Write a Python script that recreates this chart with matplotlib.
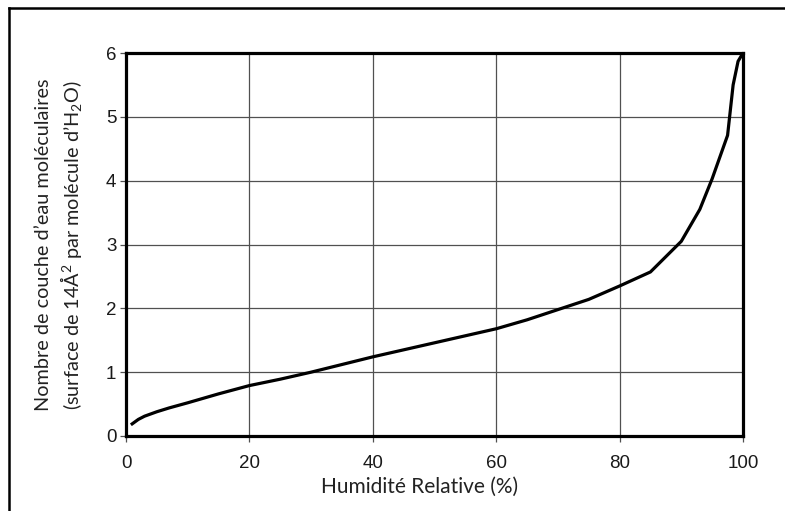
import matplotlib
matplotlib.use("Agg")
import matplotlib.pyplot as plt
from matplotlib.lines import Line2D

# Data
humidity = [1, 2, 3, 5, 7, 10, 15, 20, 25, 30, 35, 40, 45, 50, 55, 60, 65, 70,
            75, 80, 85, 90, 93, 95, 97.5, 98.4, 99.2, 100]
layers = [0.19, 0.26, 0.31, 0.38, 0.44, 0.52, 0.66, 0.79, 0.89, 1.0, 1.12, 1.24,
          1.35, 1.46, 1.57, 1.68, 1.82, 1.98, 2.14, 2.35, 2.57, 3.05, 3.55,
          4.03, 4.71, 5.5, 5.87, 6.0]
xticks = [0, 20, 40, 60, 80, 100]
yticks = [0, 1, 2, 3, 4, 5, 6]
xlabel = "Humidité Relative (%)"
ylabel1 = "Nombre de couche d\u2019eau moléculaires"
ylabel2 = "(surface de 14Å$^2$ par molécule d\u2019H$_2$O)"

plt.rcParams['mathtext.fontset'] = 'custom'
plt.rcParams['mathtext.rm'] = 'Lato'
plt.rcParams['mathtext.it'] = 'Lato:italic'
plt.rcParams['mathtext.bf'] = 'Lato:bold'

W, H = 785, 511
fig = plt.figure(figsize=(W / 100, H / 100), dpi=100)
fig.patch.set_facecolor('white')

left, right, top, bottom = 126, 743, 53, 436
ax = fig.add_axes([left / W, 1 - bottom / H, (right - left) / W, (bottom - top) / H])

ax.plot(humidity, layers, color='black', lw=2.3, solid_joinstyle='round', zorder=3)
ax.set_xlim(0, 100)
ax.set_ylim(0, 6)
ax.set_xticks(xticks)
ax.set_yticks(yticks)
ax.grid(True, color='#505050', lw=0.9)
ax.set_axisbelow(True)
for s in ax.spines.values():
    s.set_linewidth(2.3)
    s.set_color('black')
ax.tick_params(axis='x', length=4, width=0.9, color='#505050', pad=10,
               labelsize=13.5)
ax.tick_params(axis='y', length=4, width=0.9, color='#505050', pad=3,
               labelsize=13.5)
for lab in ax.get_xticklabels() + ax.get_yticklabels():
    lab.set_fontfamily('Liberation Sans')
    lab.set_color('#1a1a1a')

fig.text(420 / W, 1 - 487 / H, xlabel, ha='center', va='center',
         fontsize=15, family='Lato', color='#222222')
fig.text(44 / W, 1 - 245 / H, ylabel1, ha='center', va='center',
         rotation=90, fontsize=14.3, family='Lato', color='#222222')
fig.text(71 / W, 1 - 245 / H, ylabel2, ha='center', va='center',
         rotation=90, fontsize=14.3, family='Lato', color='#222222')

# outer frame (top and left visible)
fig.add_artist(Line2D([9 / W, 9 / W], [0, 1 - 8 / H], transform=fig.transFigure,
                      color='black', lw=1.8))
fig.add_artist(Line2D([9 / W, 1], [1 - 8 / H, 1 - 8 / H], transform=fig.transFigure,
                      color='black', lw=1.8))

fig.savefig('out.png', dpi=100, facecolor='white')
